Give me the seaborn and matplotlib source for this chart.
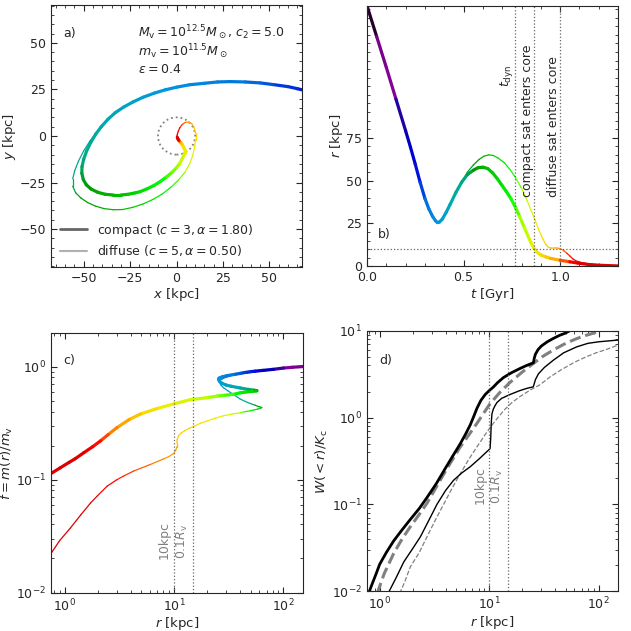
import numpy as np
import seaborn as sns
import matplotlib
matplotlib.use("Agg")
import matplotlib.pyplot as plt
from matplotlib.collections import LineCollection
from matplotlib.colors import ListedColormap, Normalize
from matplotlib.lines import Line2D
from matplotlib.patches import Circle
from matplotlib.ticker import MultipleLocator

# ---- panel a: orbits in the x-y plane (t = time in Gyr, sets the colour)
a_compact_x = [70, 65, 60, 52, 45, 37, 28.8, 22, 15, 7, 0, -6, -12, -18, -23.2, -28.5, -33,
               -37, -40.5, -43.5, -46.2, -48.4, -50, -50.9, -51, -50.2, -48.6, -46, -42.5, -38.5,
               -34, -30, -26, -22.5, -19.6, -15.7, -12, -8.5, -5.3, -2.4, 0, 1.7, 2.9, 3.9, 4.4,
               4.4, 3.8, 2.9, 2.0, 1.3, 0.8, 0.4]
a_compact_y = [24.2, 25.4, 26.5, 27.6, 28.5, 29.0, 29.2, 29.0, 28.3, 27.5, 26.2, 24.8, 23, 20.8, 18.4,
               15.5, 12.5, 8.9, 5, 1, -3.5, -8, -12.5, -16.5, -20, -23.4, -26.2, -28.5, -30.2, -31.3,
               -31.7, -31.7, -31.3, -30.6, -29.9, -28.3, -26.5, -24.3, -21.9, -19.5, -17, -14.8,
               -12.5, -10.5, -9, -7.5, -6, -4.4, -3.3, -2.5, -1.7, -0.7]
a_compact_t = [0.26, 0.27, 0.28, 0.29, 0.30, 0.31, 0.32, 0.33, 0.34, 0.35, 0.36, 0.37, 0.38, 0.39, 0.40,
               0.41, 0.42, 0.43, 0.44, 0.455, 0.47, 0.485, 0.50, 0.515, 0.53, 0.545, 0.56, 0.575, 0.59,
               0.605, 0.62, 0.635, 0.65, 0.665, 0.68, 0.70, 0.72, 0.74, 0.76, 0.78, 0.795, 0.81, 0.825,
               0.84, 0.855, 0.87, 0.89, 0.92, 0.96, 1.02, 1.10, 1.30]

a_diffuse_x = [70, 65, 60, 52, 45, 37, 28.8, 22, 15, 7, 0, -6, -12, -18, -23.2, -28.5, -33,
               -38, -42.5, -46.5, -50, -52.8, -54.8, -55.9, -55.9, -54.3, -51.5, -47.8, -43.5, -39,
               -34, -29, -23.5, -18, -12.5, -7.5, -3, 1, 4.5, 7, 8.7, 9.7, 10.2, 10.2, 9.5, 8.2,
               6.5, 4.7, 3.1, 1.8, 0.9, 0.3, 0.2, 0.6]
a_diffuse_y = [24.2, 25.4, 26.5, 27.6, 28.5, 29.0, 29.2, 29.0, 28.3, 27.5, 26.2, 24.8, 23, 20.8, 18.4,
               15.5, 12.5, 7.5, 2.5, -2.5, -8, -13.5, -18.5, -23, -27, -30.5, -33.3, -35.8, -37.7,
               -39, -39.6, -39.5, -38.3, -36.5, -34, -31, -27.5, -23.7, -19.5, -15, -10.5, -6, -2,
               1.5, 4.5, 6.6, 7.5, 7.3, 6.2, 4.5, 2.5, 0.5, -0.8, -1.5]
a_diffuse_t = [0.26, 0.27, 0.28, 0.29, 0.30, 0.31, 0.32, 0.33, 0.34, 0.35, 0.36, 0.37, 0.38, 0.39, 0.40,
               0.41, 0.42, 0.43, 0.44, 0.455, 0.47, 0.485, 0.50, 0.515, 0.53, 0.545, 0.56, 0.575, 0.59,
               0.605, 0.62, 0.635, 0.655, 0.675, 0.70, 0.725, 0.75, 0.775, 0.80, 0.83, 0.86, 0.885,
               0.91, 0.93, 0.95, 0.97, 0.99, 1.01, 1.03, 1.05, 1.07, 1.10, 1.20, 1.30]
core_radius = 10  # kpc

# ---- panel b: r(t)
b_compact_t = [0, 0.05, 0.1, 0.15, 0.2, 0.225, 0.25, 0.275, 0.3, 0.32, 0.34, 0.355, 0.365, 0.375,
               0.39, 0.41, 0.43, 0.46, 0.49, 0.52, 0.55, 0.575, 0.6, 0.625, 0.65, 0.675, 0.7, 0.72,
               0.745, 0.77, 0.79, 0.815, 0.836, 0.85, 0.865, 0.88, 0.9, 0.925, 0.95, 1.0, 1.05, 1.09,
               1.15, 1.22, 1.30]
b_compact_r = [152, 134, 116, 97.5, 79, 69.5, 59.5, 49, 39.5, 33.5, 29, 26.5, 25.5, 25.8,
               27.5, 31.5, 36, 43, 49, 53.5, 56, 57.5, 57.8, 57, 54.5, 51, 47, 43.8,
               39.5, 34, 29, 22.5, 17, 13.5, 10.3, 8.2, 6.6, 5.5, 4.6, 3.5, 2.6, 1.9,
               1.0, 0.5, 0.2]
b_diffuse_t = [0, 0.05, 0.1, 0.15, 0.2, 0.225, 0.25, 0.275, 0.3, 0.32, 0.34, 0.355, 0.365, 0.375,
               0.39, 0.41, 0.43, 0.46, 0.49, 0.52, 0.55, 0.58, 0.605, 0.63, 0.655, 0.68, 0.71, 0.74,
               0.77, 0.8, 0.83, 0.85, 0.87, 0.89, 0.91, 0.925, 0.94, 0.955, 0.975, 0.99, 1.005, 1.02,
               1.035, 1.05, 1.065, 1.08, 1.1, 1.13, 1.16, 1.22, 1.30]
b_diffuse_r = [152, 134, 116, 97.5, 79, 69.5, 59.5, 49, 39.5, 33.5, 29, 26.5, 25.5, 25.8,
               27.5, 31.5, 36, 43, 49, 55, 59, 62.3, 64.2, 65, 64.6, 63, 60.5, 56.5,
               51.5, 45.5, 38, 32.5, 27, 21, 16, 12.8, 11, 10.6, 10.7, 10.6, 10, 9,
               7.6, 6, 4.4, 3.3, 2.4, 1.7, 1.2, 0.6, 0.2]
t_dyn = 0.767
t_core_compact = 0.865
t_core_diffuse = 1.0

# ---- panel c: bound mass fraction vs radius
c_compact_r = [150, 120, 100, 80.9, 65, 55, 49.6, 44, 40.2, 35, 30.4, 27.5, 25.8, 25.5, 26, 27.4,
               30, 33, 40.2, 48, 54, 57.1, 56, 52, 45, 40.2, 34.9, 28, 24.7, 20, 14.1, 10, 7, 4.93,
               3.9, 3.02, 2.5, 2.13, 1.8, 1.5, 1.25, 1.1, 0.9, 0.75]
c_compact_f = [1.0, 0.985, 0.97, 0.945, 0.925, 0.91, 0.9, 0.885, 0.87, 0.85, 0.83, 0.81, 0.79, 0.77,
               0.74, 0.71, 0.685, 0.67, 0.646, 0.627, 0.617, 0.612, 0.608, 0.604, 0.595, 0.585,
               0.568, 0.555, 0.548, 0.53, 0.509, 0.468, 0.425, 0.38, 0.34, 0.289, 0.25, 0.22,
               0.195, 0.173, 0.153, 0.142, 0.126, 0.113]
c_compact_t = [0.06, 0.10, 0.14, 0.19, 0.23, 0.255, 0.27, 0.285, 0.295, 0.31, 0.325, 0.34, 0.355,
               0.365, 0.375, 0.39, 0.405, 0.42, 0.45, 0.49, 0.54, 0.59, 0.63, 0.66, 0.70, 0.72, 0.75,
               0.78, 0.79, 0.81, 0.84, 0.865, 0.88, 0.93, 0.96, 1.0, 1.02, 1.04, 1.07, 1.10, 1.14,
               1.18, 1.24, 1.3]

c_diffuse_r = [150, 120, 100, 80.9, 65, 55, 47, 40.2, 35, 32, 29.5, 27.8, 26.6, 26.1, 26.3, 27,
               28.3, 31, 34, 40.2, 45, 50, 55, 60, 63.4, 62, 58, 53, 49.6, 44, 40, 34, 28.3, 24, 20,
               17.5, 15.6, 13.8, 12.5, 11.6, 11, 10.7, 10.6, 10.6, 10.4, 9.9, 9, 8, 6.08, 4.28,
               3.5, 3.02, 2.45, 2.0, 1.73, 1.4, 1.13, 0.9, 0.756]
c_diffuse_f = [1.0, 0.985, 0.97, 0.935, 0.915, 0.9, 0.88, 0.86, 0.84, 0.82, 0.8, 0.78, 0.76, 0.735,
               0.71, 0.68, 0.65, 0.61, 0.575, 0.516, 0.49, 0.47, 0.455, 0.44, 0.435, 0.428, 0.42,
               0.412, 0.406, 0.398, 0.39, 0.38, 0.367, 0.35, 0.33, 0.316, 0.299, 0.285, 0.27, 0.258,
               0.244, 0.228, 0.212, 0.195, 0.183, 0.17, 0.16, 0.152, 0.136, 0.119, 0.108, 0.1,
               0.0875, 0.072, 0.0622, 0.0485, 0.0373, 0.0288, 0.0224]
c_diffuse_t = [0.06, 0.10, 0.14, 0.19, 0.23, 0.255, 0.275, 0.295, 0.31, 0.325, 0.335, 0.345, 0.355,
               0.365, 0.375, 0.385, 0.40, 0.415, 0.43, 0.46, 0.48, 0.50, 0.53, 0.57, 0.63, 0.66, 0.69,
               0.72, 0.74, 0.77, 0.80, 0.83, 0.86, 0.875, 0.885, 0.895, 0.905, 0.915, 0.92, 0.93,
               0.935, 0.94, 0.95, 0.97, 0.985, 0.99, 0.995, 1.0, 1.01, 1.03, 1.04, 1.05, 1.07, 1.085,
               1.10, 1.13, 1.16, 1.22, 1.30]
r_10kpc = 10
r_01Rv = 15

# ---- panel d: W(<r)/K_c
d_compact_r = [0.79, 0.85, 0.92, 1.0, 1.15, 1.34, 1.6, 1.9, 2.3, 2.7, 3.3, 3.97, 4.7, 5.44, 6.1,
               6.7, 7.2, 7.73, 8.4, 9.2, 10, 10.9, 12, 13.5, 16, 19.2, 22, 25.4, 25.8, 26.5, 28,
               30, 34, 38.6, 44, 49.3, 55]
d_compact_w = [0.0094, 0.012, 0.0155, 0.0205, 0.028, 0.038, 0.051, 0.067, 0.09, 0.12, 0.175, 0.26,
               0.37, 0.5, 0.65, 0.82, 1.02, 1.28, 1.58, 1.85, 2.05, 2.25, 2.55, 2.9, 3.3, 3.7, 4.0,
               4.3, 4.8, 5.4, 6.1, 6.7, 7.5, 8.2, 8.9, 9.4, 10.1]
d_diffuse_r = [1.19, 1.4, 1.66, 2.0, 2.35, 2.8, 3.33, 4.0, 4.73, 5.6, 6.71, 8.2, 9.86, 10.2, 10.35,
               10.45, 10.6, 10.9, 11.3, 11.8, 13, 15.5, 19, 22.1, 25.3, 25.8, 26.5, 28.2, 32, 38.6,
               48, 63, 80, 100, 150]
d_diffuse_w = [0.0094, 0.014, 0.0218, 0.031, 0.0423, 0.065, 0.1, 0.145, 0.19, 0.23, 0.272, 0.34,
               0.423, 0.44, 0.6, 0.85, 1.1, 1.25, 1.37, 1.5, 1.67, 1.85, 2.05, 2.18, 2.27, 2.45,
               2.75, 3.2, 3.8, 4.6, 5.6, 6.55, 7.2, 7.5, 7.85]
d_ref_compact_r = [0.946, 1.1, 1.34, 1.6, 1.9, 2.3, 2.7, 3.3, 3.97, 4.7, 5.44, 6.5, 7.73, 9, 10.2,
                   12.5, 15.5, 20, 25.4, 31, 38.6, 48, 58.6, 72, 89, 102]
d_ref_compact_w = [0.0094, 0.016, 0.0272, 0.04, 0.0552, 0.077, 0.103, 0.16, 0.24, 0.34, 0.46, 0.63,
                   0.86, 1.15, 1.45, 1.95, 2.55, 3.35, 4.23, 5.1, 6.03, 7.0, 7.85, 8.7, 9.4, 10.0]
d_ref_diffuse_r = [1.52, 1.7, 1.9, 2.3, 2.7, 3.2, 3.83, 4.6, 5.44, 6.5, 7.73, 9.2, 10.9, 13.5, 16,
                   19.2, 24, 29.2, 36, 44.4, 60, 77.6, 95, 117, 150]
d_ref_diffuse_w = [0.0094, 0.013, 0.019, 0.028, 0.0423, 0.065, 0.1, 0.155, 0.225, 0.33, 0.46, 0.64,
                   0.86, 1.2, 1.48, 1.76, 2.1, 2.4, 2.95, 3.5, 4.35, 5.05, 5.6, 6.1, 6.85]

# ---------------------------------------------------------------------------
sns.set_style("ticks")
plt.rcParams["font.family"] = ["DejaVu Sans"]
plt.rcParams["font.size"] = 9

base = plt.get_cmap("nipy_spectral")
cmap = ListedColormap(base(np.linspace(0, 0.9, 256)))
norm = Normalize(0, 1.125, clip=True)

LW_THICK, LW_THIN = 2.3, 0.9


def colored_line(ax, x, y, t, lw):
    pts = np.column_stack([x, y])
    segs = np.stack([pts[:-1], pts[1:]], axis=1)
    t = np.asarray(t, dtype=float)
    lc = LineCollection(segs, cmap=cmap, norm=norm, linewidths=lw,
                        capstyle="round", joinstyle="round")
    lc.set_array(0.5 * (t[:-1] + t[1:]))
    ax.add_collection(lc)


def style_ax(ax):
    ax.tick_params(which="both", direction="in", top=True, right=True, labelsize=9)
    ax.tick_params(which="major", length=4.5, width=0.8)
    ax.tick_params(which="minor", length=2.5, width=0.6)
    for s in ax.spines.values():
        s.set_linewidth(0.8)


fig = plt.figure(figsize=(6.31, 6.31), dpi=100)
ax_a = fig.add_axes([0.0808, 0.577, 0.398, 0.415])
ax_b = fig.add_axes([0.5816, 0.578, 0.398, 0.413])
ax_c = fig.add_axes([0.0808, 0.061, 0.399, 0.412])
ax_d = fig.add_axes([0.5811, 0.063, 0.398, 0.4125])

# a) orbit
ax_a.add_patch(Circle((0, 0), core_radius, fill=False, ls=":", lw=1.3, color="grey"))
colored_line(ax_a, a_diffuse_x, a_diffuse_y, a_diffuse_t, LW_THIN)
colored_line(ax_a, a_compact_x, a_compact_y, a_compact_t, LW_THICK)
ax_a.set_xlim(-67.6, 67.6)
ax_a.set_ylim(-70.3, 70.3)
ax_a.xaxis.set_major_locator(MultipleLocator(25))
ax_a.yaxis.set_major_locator(MultipleLocator(25))
ax_a.xaxis.set_minor_locator(MultipleLocator(5))
ax_a.yaxis.set_minor_locator(MultipleLocator(5))
ax_a.set_xlabel("$x$ [kpc]", fontsize=9.5, labelpad=1)
ax_a.set_ylabel("$y$ [kpc]", fontsize=9.5, labelpad=1)
ax_a.text(0.048, 0.893, "a)", transform=ax_a.transAxes, va="center")
ax_a.text(0.347, 0.893, r"$M_{\rm v}=10^{12.5}M_\odot$, $c_2=5.0$", transform=ax_a.transAxes, va="center")
ax_a.text(0.347, 0.821, r"$m_{\rm v}=10^{11.5}M_\odot$", transform=ax_a.transAxes, va="center")
ax_a.text(0.347, 0.752, r"$\epsilon=0.4$", transform=ax_a.transAxes, va="center")
handles = [Line2D([], [], color="#666666", lw=2.0),
           Line2D([], [], color="#b0b0b0", lw=1.5)]
ax_a.legend(handles, [r"compact ($c=3,\alpha=1.80$)", r"diffuse ($c=5,\alpha=0.50$)"],
            loc="lower left", frameon=False, fontsize=9, handlelength=2.2,
            borderaxespad=0.3, labelspacing=0.35)
style_ax(ax_a)

# b) r(t)
colored_line(ax_b, b_diffuse_t, b_diffuse_r, b_diffuse_t, LW_THIN)
colored_line(ax_b, b_compact_t, b_compact_r, b_compact_t, LW_THICK)
for tv in (t_dyn, t_core_compact, t_core_diffuse):
    ax_b.axvline(tv, color="0.4", ls=":", lw=0.9)
ax_b.axhline(core_radius, color="0.4", ls=":", lw=0.9)
ax_b.text(t_dyn, 104.8, r"$t_{\rm dyn}$", rotation=90, ha="right", va="bottom")
ax_b.text(t_core_compact, 40.6, "compact sat enters core", rotation=90, ha="right", va="bottom")
ax_b.text(t_core_diffuse, 40.6, "diffuse sat enters core", rotation=90, ha="right", va="bottom")
ax_b.text(0.044, 0.121, "b)", transform=ax_b.transAxes, va="center")
ax_b.set_xlim(0, 1.3)
ax_b.set_ylim(0, 152)
ax_b.set_yticks([0, 25, 50, 75])
ax_b.xaxis.set_major_locator(MultipleLocator(0.5))
ax_b.xaxis.set_minor_locator(MultipleLocator(0.1))
ax_b.yaxis.set_minor_locator(MultipleLocator(5))
ax_b.set_xlabel("$t$ [Gyr]", fontsize=9.5, labelpad=1)
ax_b.set_ylabel("$r$ [kpc]", fontsize=9.5, labelpad=1)
style_ax(ax_b)

# c) f(r)
ax_c.set_xscale("log")
ax_c.set_yscale("log")
colored_line(ax_c, c_diffuse_r, c_diffuse_f, c_diffuse_t, LW_THIN)
colored_line(ax_c, c_compact_r, c_compact_f, c_compact_t, LW_THICK)
for rv in (r_10kpc, r_01Rv):
    ax_c.axvline(rv, color="0.4", ls=":", lw=0.9)
ax_c.text(9.4, 0.0196, "10kpc", rotation=90, ha="right", va="bottom", color="grey")
ax_c.text(14.1, 0.0196, r"$0.1R_{\rm v}$", rotation=90, ha="right", va="bottom", color="grey")
ax_c.text(0.048, 0.891, "c)", transform=ax_c.transAxes, va="center")
ax_c.set_xlim(0.75, 150)
ax_c.set_ylim(0.01, 2)
ax_c.set_xlabel("$r$ [kpc]", fontsize=9.5, labelpad=1)
ax_c.set_ylabel(r"$f=m(r)/m_{\rm v}$", fontsize=9.5, labelpad=1)
style_ax(ax_c)

# d) W(<r)
ax_d.set_xscale("log")
ax_d.set_yscale("log")
sns.lineplot(x=d_ref_diffuse_r, y=d_ref_diffuse_w, ax=ax_d, color="grey", lw=0.9,
             linestyle="--", sort=False, estimator=None)
sns.lineplot(x=d_ref_compact_r, y=d_ref_compact_w, ax=ax_d, color="grey", lw=2.2,
             linestyle="--", sort=False, estimator=None)
sns.lineplot(x=d_diffuse_r, y=d_diffuse_w, ax=ax_d, color="black", lw=1.0,
             sort=False, estimator=None)
sns.lineplot(x=d_compact_r, y=d_compact_w, ax=ax_d, color="black", lw=2.0,
             sort=False, estimator=None)
for rv in (r_10kpc, r_01Rv):
    ax_d.axvline(rv, color="0.4", ls=":", lw=0.9)
ax_d.text(9.4, 0.1, "10kpc", rotation=90, ha="right", va="bottom", color="grey")
ax_d.text(14.1, 0.1, r"$0.1R_{\rm v}$", rotation=90, ha="right", va="bottom", color="grey")
ax_d.text(0.05, 0.885, "d)", transform=ax_d.transAxes, va="center")
ax_d.set_xlim(0.76, 150)
ax_d.set_ylim(0.01, 10)
ax_d.set_xlabel("$r$ [kpc]", fontsize=9.5, labelpad=1)
ax_d.set_ylabel(r"$W(<r)/K_{\rm c}$", fontsize=9.5, labelpad=1)
style_ax(ax_d)

fig.savefig("out.png", dpi=100)
